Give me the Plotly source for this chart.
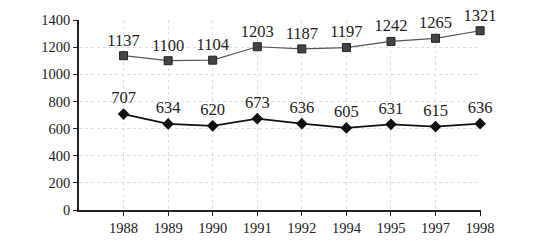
import plotly.graph_objects as go

years = ["1988", "1989", "1990", "1991", "1992", "1994", "1995", "1997", "1998"]
upper = [1137, 1100, 1104, 1203, 1187, 1197, 1242, 1265, 1321]
lower = [707, 634, 620, 673, 636, 605, 631, 615, 636]

font = "Liberation Serif, Times New Roman, serif"

fig = go.Figure()
fig.add_trace(go.Scatter(
    x=years, y=upper, mode="lines+markers+text",
    text=[str(v) for v in upper], textposition="top center",
    textfont=dict(family=font, size=16.5, color="#222"),
    line=dict(color="#555", width=1.2),
    marker=dict(symbol="square", size=8, color="#444", line=dict(color="#222", width=1)),
    cliponaxis=False, showlegend=False))
fig.add_trace(go.Scatter(
    x=years, y=lower, mode="lines+markers+text",
    text=[str(v) for v in lower], textposition="top center",
    textfont=dict(family=font, size=16.5, color="#222"),
    line=dict(color="#111", width=1.8),
    marker=dict(symbol="diamond", size=9, color="#111"),
    cliponaxis=False, showlegend=False))

fig.update_layout(
    width=554, height=247,
    margin=dict(l=79, r=73, t=20, b=37),
    paper_bgcolor="white", plot_bgcolor="white",
    font=dict(family=font, size=14.5, color="#222"),
)
fig.update_xaxes(
    type="category", range=[-1, 8.02],
    showline=True, linecolor="#222", linewidth=1.5,
    showgrid=True, gridcolor="#ddd", griddash="dot", gridwidth=1,
    ticks="outside", ticklen=4, tickcolor="#222",
    tickfont=dict(family=font, size=14.5, color="#222"),
)
fig.update_yaxes(
    range=[0, 1400], dtick=200,
    showline=True, linecolor="#222", linewidth=1.5,
    showgrid=True, gridcolor="#ddd", griddash="dot", gridwidth=1,
    ticks="outside", ticklen=4, tickcolor="#222",
    tickfont=dict(family=font, size=14.5, color="#222"),
    zeroline=False,
)

fig.write_html("out.html")
